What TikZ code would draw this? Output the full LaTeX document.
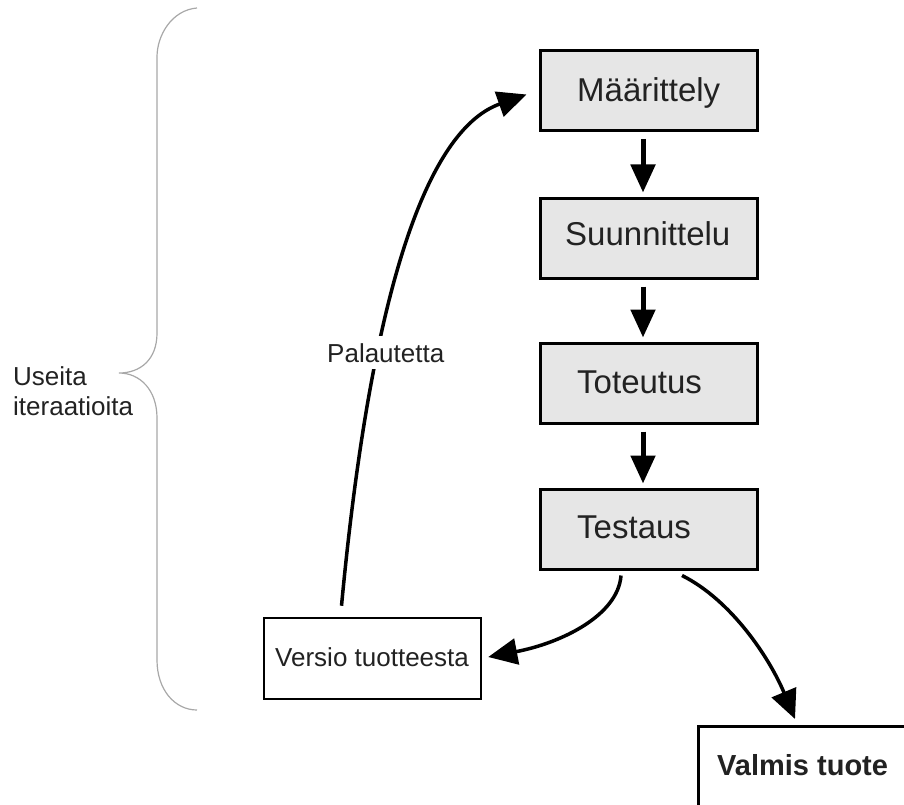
\documentclass[tikz,border=0pt]{standalone}
\usepackage{fontspec}
\setmainfont{Liberation Sans}
\usetikzlibrary{arrows.meta,calc}

\definecolor{boxgray}{HTML}{E6E6E6}
\definecolor{inkgray}{HTML}{222222}
\definecolor{bracegray}{HTML}{A8A8A8}

\tikzset{
  phase/.style={draw=black, line width=3pt, fill=boxgray, inner sep=0pt,
                minimum width=217pt, minimum height=80pt},
  plainbox/.style={draw=black, line width=2.5pt, fill=white, inner sep=0pt},
  phasetext/.style={inner sep=0pt, anchor=base west, text=inkgray,
                    font=\fontsize{33}{40}\selectfont},
  smalltext/.style={inner sep=0pt, anchor=base west, text=inkgray,
                    font=\fontsize{26}{30}\selectfont},
  stepflow/.style={line width=5pt, -{Triangle[length=28pt,width=24pt]},
                   shorten <=7pt, shorten >=4pt},
  bendflow/.style={line width=3.5pt, -{Triangle[length=29pt,width=26pt]}},
  bracket/.style={draw=bracegray, line width=1.2pt}
}

\begin{document}
\begin{tikzpicture}[x=1pt, y=-1pt]
  \useasboundingbox (0,0) rectangle (904,805);
  \clip (0,0) rectangle (904,805);

  % process phases
  \node[phase] (maar) at (648.5,90.5)  {};
  \node[phase] (suun) at (648.5,238)   {};
  \node[phase] (tote) at (649,383)     {};
  \node[phase] (test) at (649,529)     {};

  \node[phasetext] (maart)  at (577,102) {Määrittely};
  \node[phasetext] (suunt)  at (565,245) {Suunnittelu};
  \node[phasetext] (totet)  at (577,393) {Toteutus};
  \node[phasetext] (testt)  at (577,538) {Testaus};

  % outputs
  \node[plainbox, minimum width=217pt, minimum height=81pt] (vers) at (372.5,658.5) {};
  \node[smalltext] (verst) at (275,666) {Versio tuotteesta};
  \node[plainbox, minimum width=240pt, minimum height=120pt, anchor=north west] (valm) at (697,725) {};
  \node[smalltext, font=\fontsize{29}{34}\selectfont\bfseries] (valmt) at (717,775) {Valmis tuote};

  % side labels
  \node[smalltext] (usei) at (13,385) {Useita};
  \node[smalltext] (iter) at (13,415) {iteraatioita};

  % phase to phase
  \draw[stepflow] ([xshift=-5.5pt]maar.south) -- ([xshift=-5.5pt]suun.north);
  \draw[stepflow] ([xshift=-5.5pt]suun.south) -- ([xshift=-6pt]tote.north);
  \draw[stepflow] ([xshift=-6pt]tote.south) -- ([xshift=-6pt]test.north);

  % testing results
  \draw[bendflow] ($(test.south)+(-28,5)$) .. controls +(-3,40) and +(73,-14) .. ($(vers.east)+(6,-1.5)$);
  \draw[bendflow] ($(test.south)+(33,5)$) .. controls +(50,25) and +(-25,-60) .. ($(valm.north west)+(98,-6)$);

  % feedback loop, its label sits on a white patch over the line
  \draw[bendflow] ($(vers.north)+(-31,-11)$) .. controls +(32,-340) and +(-93,33) .. ($(maar.west)+(-12,4)$);
  \node[smalltext, fill=white, inner ysep=7pt] (pala) at (327,362) {Palautetta};

  % brace spanning the iterations
  \path[bracket] (197,8) .. controls (172,10) and (157,35) .. (157,57)
    -- (157,333) .. controls (157,360) and (140,373) .. (119,373)
    .. controls (140,373) and (157,390) .. (157,418)
    -- (157,660) .. controls (157,690) and (175,710) .. (197,710);
\end{tikzpicture}
\end{document}
